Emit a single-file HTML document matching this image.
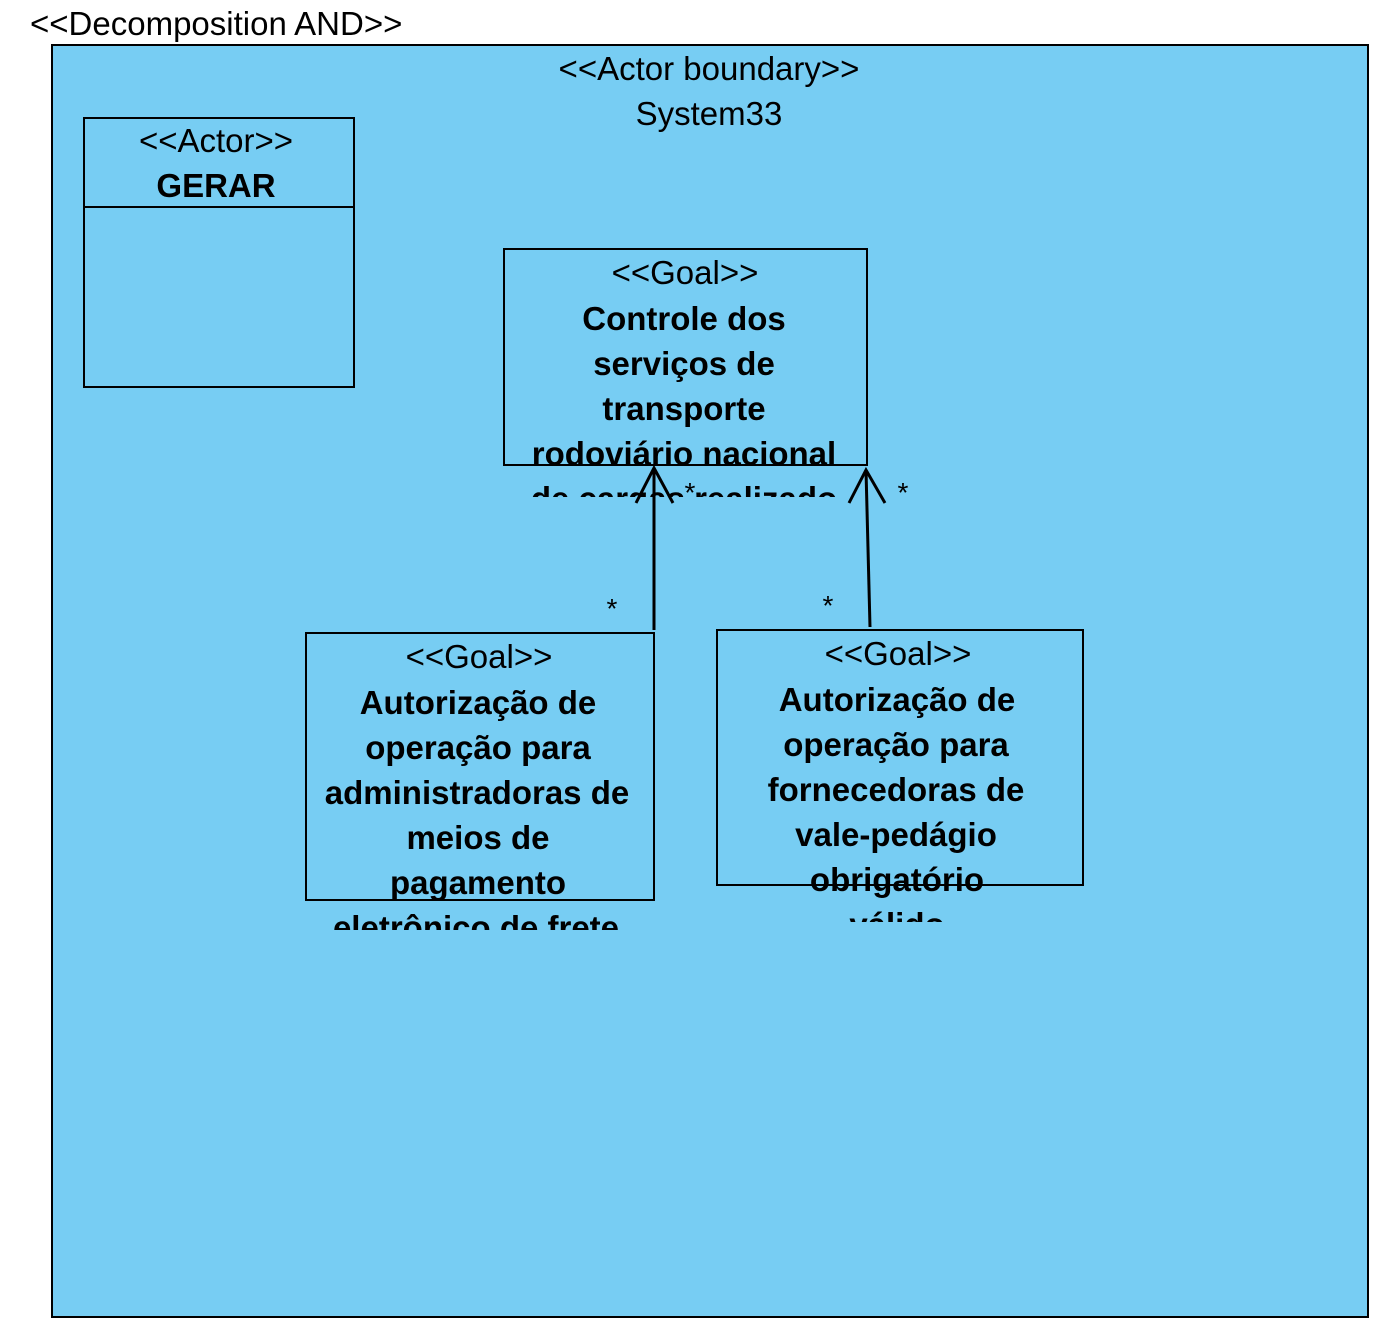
<!DOCTYPE html>
<html><head><meta charset="utf-8"><style>
html,body{margin:0;padding:0;background:#fff;}
svg{display:block;}
text{font-family:"Liberation Sans",Arial,sans-serif;fill:#000;}
.b{font-weight:bold;}
</style></head><body>
<svg width="1383" height="1332" viewBox="0 0 1383 1332" xmlns="http://www.w3.org/2000/svg">
<defs>
<clipPath id="c1"><rect x="504" y="249" width="364" height="248"/></clipPath>
<clipPath id="c2"><rect x="306" y="633" width="349" height="297"/></clipPath>
<clipPath id="c3"><rect x="717" y="630" width="367" height="292"/></clipPath>
</defs>
<text x="30" y="35" font-size="33">&lt;&lt;Decomposition AND&gt;&gt;</text>
<rect x="52" y="45" width="1316" height="1272" fill="#77CDF3" stroke="#000" stroke-width="2"/>
<text x="709" y="80" font-size="33" text-anchor="middle">&lt;&lt;Actor boundary&gt;&gt;</text>
<text x="709" y="125" font-size="33" text-anchor="middle">System33</text>

<rect x="84" y="118" width="270" height="269" fill="none" stroke="#000" stroke-width="2"/>
<line x1="84" y1="207" x2="354" y2="207" stroke="#000" stroke-width="2"/>
<text x="216" y="152" font-size="33" text-anchor="middle">&lt;&lt;Actor&gt;&gt;</text>
<text x="216" y="197" font-size="33" class="b" text-anchor="middle">GERAR</text>

<rect x="504" y="249" width="363" height="216" fill="none" stroke="#000" stroke-width="2"/>
<g clip-path="url(#c1)" font-size="33" text-anchor="middle">
<text x="685" y="284">&lt;&lt;Goal&gt;&gt;</text>
<text x="684" y="330" class="b">Controle dos</text>
<text x="684" y="375" class="b">serviços de</text>
<text x="684" y="420" class="b">transporte</text>
<text x="684" y="465" class="b">rodoviário nacional</text>
<text x="684" y="510" class="b">de cargas realizado</text>
</g>

<rect x="306" y="633" width="348" height="267" fill="none" stroke="#000" stroke-width="2"/>
<g clip-path="url(#c2)" font-size="33" text-anchor="middle">
<text x="479" y="668">&lt;&lt;Goal&gt;&gt;</text>
<text x="478" y="714" class="b">Autorização de</text>
<text x="478" y="759" class="b">operação para</text>
<text x="477" y="804" class="b">administradoras de</text>
<text x="478" y="849" class="b">meios de</text>
<text x="478" y="894" class="b">pagamento</text>
<text x="476" y="939" class="b">eletrônico de frete</text>
</g>

<rect x="717" y="630" width="366" height="255" fill="none" stroke="#000" stroke-width="2"/>
<g clip-path="url(#c3)" font-size="33" text-anchor="middle">
<text x="898" y="665">&lt;&lt;Goal&gt;&gt;</text>
<text x="897" y="711" class="b">Autorização de</text>
<text x="896" y="756" class="b">operação para</text>
<text x="896" y="801" class="b">fornecedoras de</text>
<text x="896" y="846" class="b">vale-pedágio</text>
<text x="897" y="891" class="b">obrigatório</text>
<text x="897" y="936" class="b">válido</text>
</g>

<g stroke="#000" stroke-width="3" fill="none">
<line x1="654" y1="630" x2="654" y2="468"/>
<polyline points="636,503 654,468 673,503"/>
<line x1="870" y1="627" x2="866" y2="470"/>
<polyline points="849,503 866,470 885,503"/>
</g>
<g font-size="28" text-anchor="middle">
<text x="690" y="502">*</text>
<text x="903" y="502">*</text>
<text x="612" y="618">*</text>
<text x="828" y="615">*</text>
</g>
</svg>
</body></html>
